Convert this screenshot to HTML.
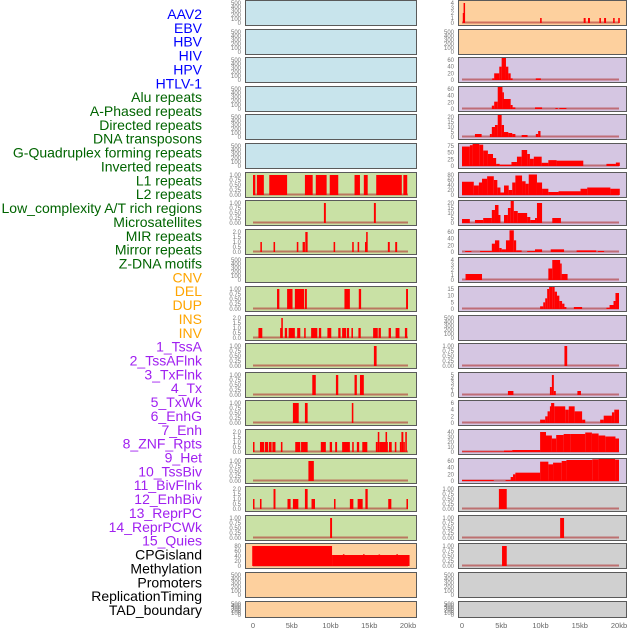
<!DOCTYPE html>
<html><head><meta charset="utf-8"><style>
html,body{margin:0;padding:0;background:#fff;width:630px;height:630px;overflow:hidden}
svg{display:block;font-family:"Liberation Sans",sans-serif}
</style></head><body>
<svg id="chart" width="630" height="630" viewBox="0 0 630 630" xmlns="http://www.w3.org/2000/svg"></svg>
<script>
// ---- data: track labels ----
const labelNames = ["AAV2","EBV","HBV","HIV","HPV","HTLV-1","Alu repeats","A-Phased repeats","Directed repeats","DNA transposons","G-Quadruplex forming repeats","Inverted repeats","L1 repeats","L2 repeats","Low_complexity A/T rich regions","Microsatellites","MIR repeats","Mirror repeats","Z-DNA motifs","CNV","DEL","DUP","INS","INV","1_TssA","2_TssAFlnk","3_TxFlnk","4_Tx","5_TxWk","6_EnhG","7_Enh","8_ZNF_Rpts","9_Het","10_TssBiv","11_BivFlnk","12_EnhBiv","13_ReprPC","14_ReprPCWk","15_Quies","CPGisland","Methylation","Promoters","ReplicationTiming","TAD_boundary"];
const labelGroups = ["v","v","v","v","v","v","r","r","r","r","r","r","r","r","r","r","r","r","r","s","s","s","s","s","c","c","c","c","c","c","c","c","c","c","c","c","c","c","c","o","o","o","o","o"];
const xTickValues = [0,5,10,15,20];
const xTickLabels = ["0","5kb","10kb","15kb","20kb"];
const ticks500 = [0,100,200,300,400,500];
const ticks1 = [0,0.25,0.5,0.75,1];
const ticks2 = [0,0.5,1,1.5,2];
// ---- series: [startKb, endKb, value] ----
const L6 = [[0,0.3,1],[0.5,1.4,1],[2.1,4.4,1],[6.7,7.7,1],[8.1,9.5,1],[9.9,11,1],[13.1,13.8,1],[14.3,14.8,1],[15.9,19.2,1],[19.4,19.9,1]];
const L7 = [[9.15,9.4,1],[15.6,15.85,1]];
const L8 = [[0.95,1.15,1],[2.65,2.85,1],[5.65,5.85,1],[6.4,6.7,1],[6.75,7.05,2],[10.4,10.6,1],[12.8,13,1],[13.5,13.7,1],[14.45,14.6,1],[14.6,14.8,2],[17.4,17.65,1],[18.35,18.6,1]];
const L10 = [[3.1,3.4,1],[4.4,5.1,1],[5.4,6.6,1],[6.7,6.95,1],[11.8,12.5,1],[13.65,13.95,1],[19.75,20,1]];
const L11 = [[0.7,1.2,1],[3.5,3.65,1],[3.65,3.85,2],[4.1,4.4,1],[4.6,5.4,1],[5.7,6.1,1],[6.6,6.8,1],[7.5,8.3,1],[8.5,8.8,1],[9.6,10.1,1],[11,11.3,1],[11.5,12,1],[12.1,12.4,1],[12.7,12.9,1],[13.6,13.9,1],[15.5,16.1,1],[16.2,16.5,1],[17.5,17.8,1],[18.4,18.9,1],[19.6,19.9,1]];
const L12 = [[15.6,15.95,1]];
const L13 = [[7.65,8.1,1],[10.7,11,1],[13.1,13.4,1],[13.8,14.3,1]];
const L14 = [[5.15,5.9,1],[6.7,7.05,1],[12.75,12.95,1]];
const L15 = [[0,0.1,1],[0.9,1.45,1],[1.55,1.95,1],[2.05,2.4,1],[2.5,2.9,1],[3.6,3.8,1],[5.45,6.1,1],[6.2,7.05,1],[8.75,9.4,1],[9.9,10.2,1],[10.6,10.85,1],[11.5,12.5,1],[12.8,13,1],[13.4,13.7,1],[14.1,14.75,1],[15.85,16.1,1],[16.1,16.3,2],[16.3,17.4,1],[17.1,17.3,2],[17.55,17.9,1],[18.3,18.5,1],[18.95,19.15,1],[19.15,19.4,2],[19.4,19.5,1],[19.65,19.85,2]];
const L16 = [[7.15,7.85,1]];
const L17 = [[0,0.12,1],[0.9,1.1,1],[2.65,2.9,2],[4.45,4.85,1],[5.15,5.85,1],[6.7,7.05,2],[7.55,8,1],[10.45,10.65,1],[12.5,12.95,1],[13.5,14.15,1],[14.5,14.8,2],[17.45,17.85,1],[19.8,20,1]];
const L18 = [[9.95,10.2,1]];
const L19 = [[-0.1,10.2,80],[10.2,20.2,44],[11.6,11.8,47],[14.2,14.4,47],[16.2,16.4,46],[18.5,18.7,47]];
const R0 = [[0.1,0.2,2],[0.2,0.35,4],[9.95,10.15,1],[15.5,15.75,1],[16.05,16.3,1],[17.5,17.7,1],[18.1,18.35,1],[19.25,19.45,1],[19.9,20.1,1]];
const R2 = [[3.85,4.1,5],[4.1,4.75,20],[4.75,5.05,40],[5.05,5.6,75],[5.6,5.9,40],[5.9,6.2,20],[6.2,6.45,5],[9.4,10.05,5]];
const R3 = [[3.8,4.1,10],[4.1,4.55,22],[4.55,5.15,75],[5.15,5.25,50],[5.25,6.2,30],[6.2,6.45,12],[6.45,6.8,5],[9.3,10.2,5],[11.9,12.2,3],[12.4,13.3,3]];
const R4 = [[1.65,2.5,3],[3.55,3.8,3],[3.8,4.2,10],[4.2,4.55,12],[4.55,5.05,22],[5.05,5.35,12],[5.35,5.9,5],[5.9,6.4,4],[6.4,6.8,3],[7.6,8.35,2],[9.4,9.7,3],[9.7,10,6]];
const R5 = [[0,1,73],[1,1.35,78],[1.35,2.2,90],[2.2,2.7,80],[2.7,3.3,58],[3.3,3.95,45],[3.95,4.35,30],[4.35,4.8,8],[4.8,6.3,5],[6.3,7,15],[7,7.6,35],[7.6,8.3,60],[8.3,8.65,45],[8.65,9.15,27],[9.15,10.15,35],[10.15,11,12],[11,12.05,22],[12.05,15.45,20],[18.4,19.6,8],[19.6,20.1,13]];
const R6 = [[0,1.5,53],[1.5,2.15,38],[2.15,2.55,50],[2.55,3.2,65],[3.2,4.05,75],[4.05,4.5,60],[4.5,4.9,30],[4.9,5.35,10],[5.35,5.95,38],[5.95,6.4,20],[6.4,6.8,50],[6.8,7.65,78],[7.65,8.1,55],[8.1,8.5,45],[8.5,9.55,82],[9.55,10.2,50],[10.2,11,25],[11,12.3,12],[12.3,15.1,15],[15.1,15.95,25],[15.95,18.9,30],[18.9,20.1,25]];
const R7 = [[0,1,4],[1.65,2.7,3],[2.7,3.8,5],[3.8,4.2,13],[4.2,4.65,18],[4.65,4.9,8],[5.35,5.85,8],[5.85,6.2,15],[6.2,6.6,22],[6.6,7.1,12],[7.1,8.3,10],[8.3,8.7,6],[8.7,9.3,3],[9.3,9.55,5],[9.55,10.2,20],[11.5,12.6,5]];
const R8 = [[0.4,1.2,3],[2.3,3.8,3],[3.8,4.2,25],[4.2,4.75,35],[4.75,5.05,12],[5.05,5.6,8],[5.6,6.05,35],[6.05,6.6,65],[6.6,6.9,35],[6.9,7.6,5],[8.3,9.3,3],[9.3,10.2,8],[11.3,13,8],[14.6,17.1,5],[17.3,18.1,3]];
const R9 = [[0.45,2.55,1.2],[11,11.5,2.3],[11.5,12.5,4],[12.5,12.7,3.3],[12.7,13.45,1.2]];
const R10 = [[9.95,10.35,2],[10.35,10.6,5],[10.6,10.85,8],[10.85,11.1,15],[11.1,11.5,20],[11.5,11.8,17],[11.8,12.1,13],[12.1,12.4,10],[12.4,12.75,6],[12.75,13.05,4],[13.05,13.3,1.5],[14.25,15.3,1.5],[18.4,18.8,1],[18.8,19.3,3],[19.3,19.55,6],[19.55,20,12]];
const R12 = [[13.05,13.4,1]];
const R13 = [[5.85,6.55,1],[11.2,11.45,2],[11.45,11.7,5],[11.7,11.95,1],[14.7,15.15,1]];
const R14 = [[9.95,10.6,1],[10.6,10.9,2],[10.9,11.2,3.5],[11.2,11.35,5],[11.35,11.75,6],[11.75,13.15,5],[13.15,13.6,4],[13.6,14.35,5],[14.35,15.3,3.5],[15.3,15.7,1],[17.6,18.05,1],[18.05,19.1,2.2],[19.1,19.4,3.2],[19.4,20,4]];
const R15 = [[0,5.35,1],[5.35,6.4,3],[6.4,9.95,4],[9.95,10.7,40],[10.7,11.45,33],[11.45,12,27],[12,12.95,34],[12.95,13.8,36],[13.8,15.7,36],[15.7,16.55,39],[16.55,17.4,37],[17.4,18.25,33],[18.25,19.55,31],[19.55,20,27]];
const R16 = [[0,4.05,3],[5.55,6.2,3],[6.2,6.5,12],[6.5,6.8,20],[6.8,9.95,25],[9.95,11,58],[11,11.6,50],[11.6,12.7,55],[12.7,13.3,60],[13.3,16.6,63],[16.6,17.4,65],[17.4,19.5,68],[19.5,20,64]];
const R17 = [[4.7,5.7,1]];
const R18 = [[12.5,13,1]];
const R19 = [[5.1,5.7,1]];

const BG = {b:"#c8e4ec", g:"#c9e1a5", p:"#fdd09e", l:"#d5c6e2", y:"#d0d0d0"};
// [column, row, bg, ticks, series]
const panels = [
 ["L",0,"b",ticks500,[]],["L",1,"b",ticks500,[]],["L",2,"b",ticks500,[]],["L",3,"b",ticks500,[]],["L",4,"b",ticks500,[]],["L",5,"b",ticks500,[]],
 ["L",6,"g",ticks1,L6],["L",7,"g",ticks1,L7],["L",8,"g",ticks2,L8],["L",9,"g",ticks500,[]],["L",10,"g",ticks1,L10],["L",11,"g",ticks2,L11],
 ["L",12,"g",ticks1,L12],["L",13,"g",ticks1,L13],["L",14,"g",ticks1,L14],["L",15,"g",ticks2,L15],["L",16,"g",ticks1,L16],["L",17,"g",ticks2,L17],
 ["L",18,"g",ticks1,L18],["L",19,"p",[0,20,40,60,80],L19],["L",20,"p",ticks500,[]],["L",21,"p",ticks500,[]],
 ["R",0,"p",[0,1,2,3,4],R0],["R",1,"p",ticks500,[]],["R",2,"l",[0,20,40,60],R2],["R",3,"l",[0,20,40,60],R3],["R",4,"l",[0,5,10,15,20],R4],
 ["R",5,"l",[0,25,50,75],R5],["R",6,"l",[0,20,40,60,80],R6],["R",7,"l",[0,5,10,15,20],R7],["R",8,"l",[0,20,40,60],R8],["R",9,"l",[0,1,2,3,4],R9],
 ["R",10,"l",[0,5,10,15],R10],["R",11,"l",ticks500,[]],["R",12,"l",ticks1,R12],["R",13,"l",[0,1,2,3,4,5],R13],["R",14,"l",[0,2,4,6],R14],
 ["R",15,"l",[0,10,20,30,40],R15],["R",16,"l",[0,20,40,60],R16],["R",17,"y",ticks1,R17],["R",18,"y",ticks1,R18],["R",19,"y",ticks1,R19],
 ["R",20,"y",ticks500,[]],["R",21,"y",ticks500,[]]
];
const labelColors = {v:"#0000ff", r:"#006400", s:"#ffa500", c:"#a020f0", o:"#000000"};

const NS = "http://www.w3.org/2000/svg";
const svg = document.getElementById("chart");
function mk(tag, attrs, parent){
  const e = document.createElementNS(NS, tag);
  for (const k in attrs) e.setAttribute(k, attrs[k]);
  (parent||svg).appendChild(e); return e;
}
// labels
labelNames.forEach((n,i)=>{
  const t = mk("text",{x:202,y:19+i*13.86,"text-anchor":"end","font-size":"14",fill:labelColors[labelGroups[i]]});
  t.textContent = n;
  
  
});
const COL = {L:{x0:245,x1:416,k0:253,k1:408}, R:{x0:458,x1:626,k0:462,k1:619}};
function xScale(c,kb){ return COL[c].k0 + (COL[c].k1-COL[c].k0)*kb/20; }
panels.forEach(p=>{
  const [c,r,bg,tk,ser] = p;
  const C = COL[c];
  const top = Math.round(r*28.6);
  const h = r===21 ? 16 : 25;
  const g = mk("g",{});
  
  
  mk("rect",{x:C.x0+0.5,y:top+0.5,width:C.x1-C.x0,height:h,fill:BG[bg],stroke:"#5a5a5a","stroke-width":1},g);
  const base = top+h-2, tmax = top+3;
  const maxT = tk[tk.length-1];
  const yS = v => base - (base-tmax)*v/maxT;
  // ticks
  tk.forEach(v=>{
    const lab = mk("text",{x:C.x0-4,y:yS(v)+2,"text-anchor":"end","font-size":"6",fill:"#777"},g);
    lab.textContent = (tk===ticks1) ? v.toFixed(2) : (tk===ticks2 ? v.toFixed(1) : String(v));
    
    
  });
  if (tk!==ticks500){
    mk("line",{x1:xScale(c,0),x2:xScale(c,20),y1:base-0.5,y2:base-0.5,stroke:"#b03030","stroke-opacity":0.6,"stroke-width":2},g);
  }
  ser.forEach(s=>{
    const x0 = xScale(c,s[0]), x1 = xScale(c,s[1]);
    const y = Math.max(top+1, yS(s[2]));
    const b = mk("rect",{x:x0,y:y,width:Math.max(1.5,x1-x0),height:base-y,fill:"#ff0000"},g);
    
    
  });
});
// x-axes
["L","R"].forEach(c=>{
  xTickValues.forEach((v,i)=>{
    const t = mk("text",{x:xScale(c,v),y:628,"text-anchor":"middle","font-size":"7.5",fill:"#666"});
    t.textContent = xTickLabels[i];
    
    
  });
});
</script>
</body></html>
